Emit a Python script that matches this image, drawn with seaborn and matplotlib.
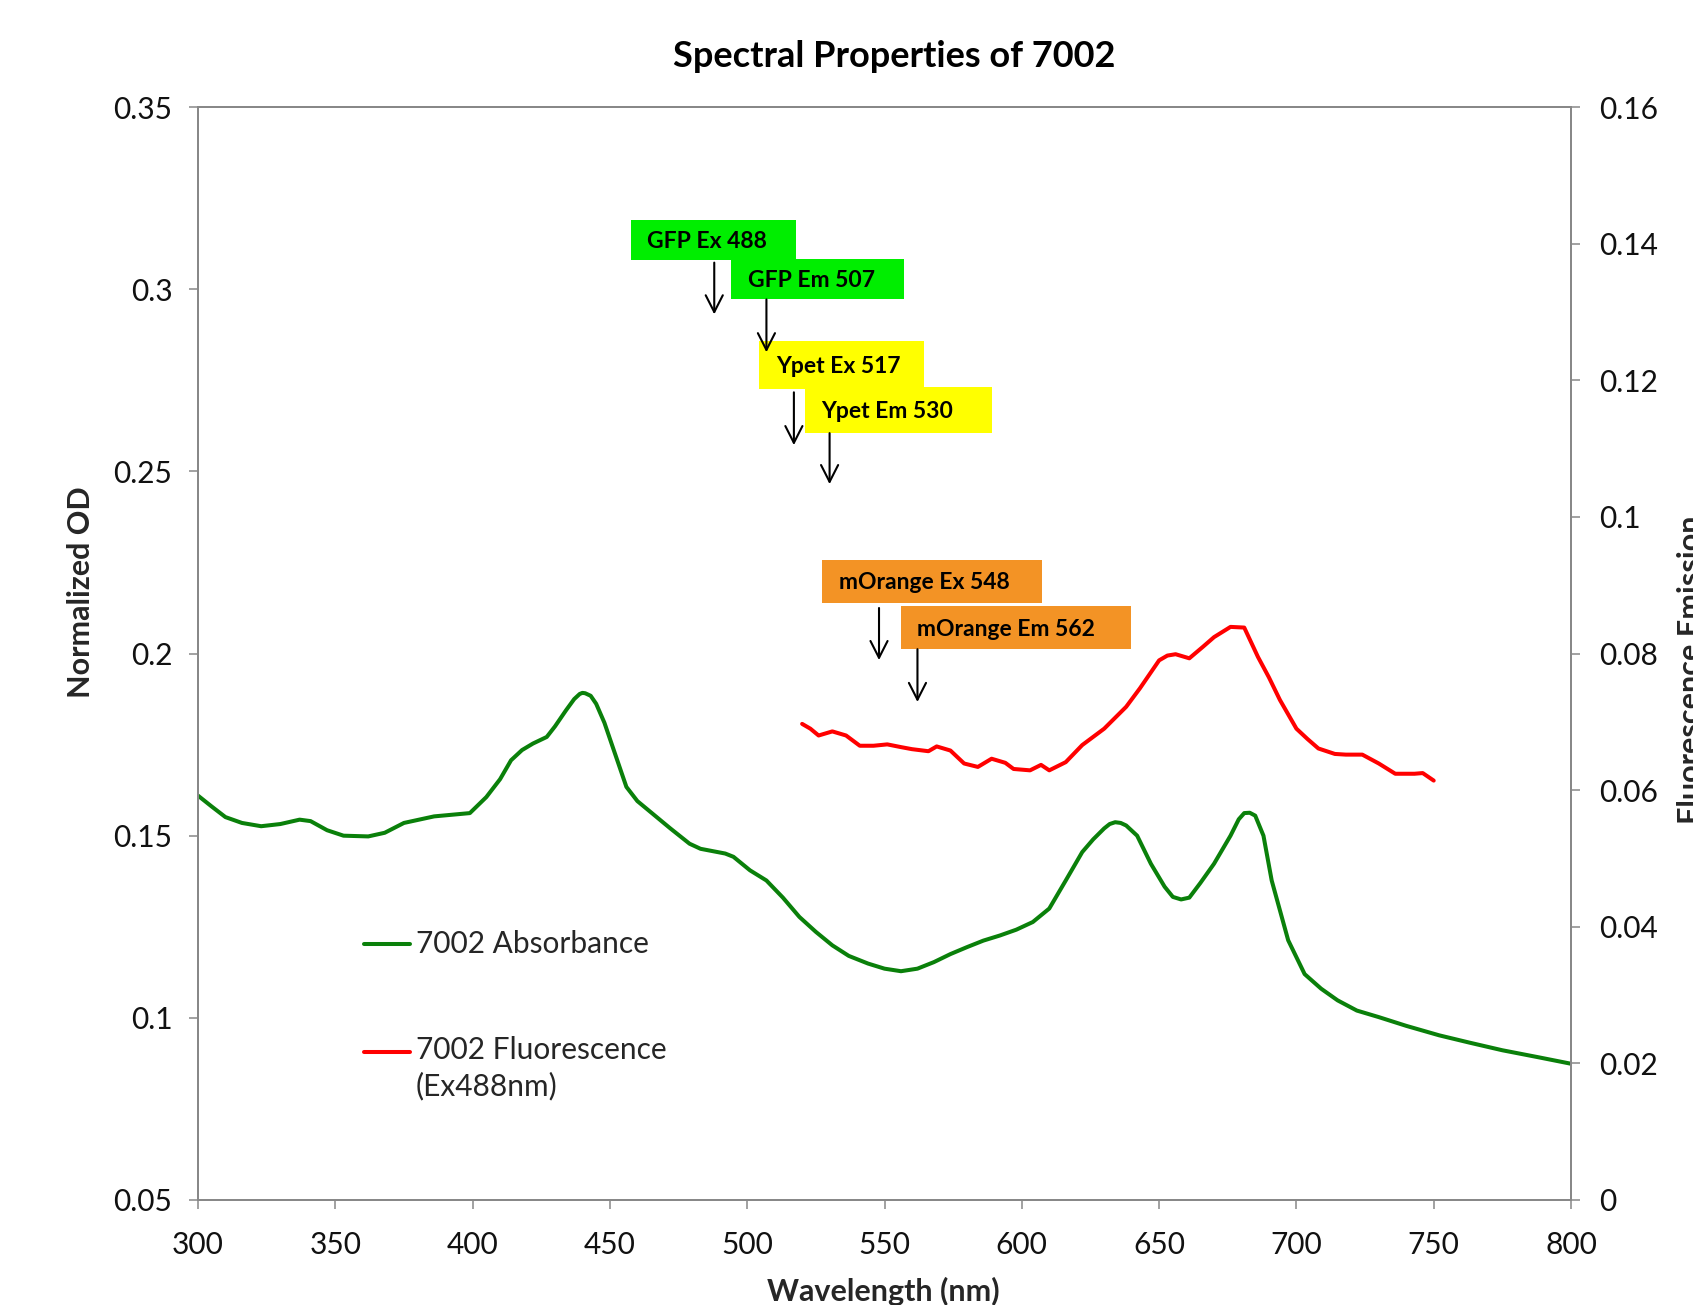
import numpy as np
import pandas as pd
import matplotlib
matplotlib.use("Agg")
import matplotlib.pyplot as plt
from matplotlib.ticker import FuncFormatter, MultipleLocator
from matplotlib.patches import Rectangle
import seaborn as sns

# Absorbance spectrum of strain 7002 (normalized OD)
abs_wavelength = [300, 305, 310, 316, 323, 330, 337, 341, 347, 353, 362, 368, 375, 386,
                  399, 405, 410, 414, 418, 422, 427, 430, 434, 437, 439, 440, 441, 443,
                  445, 448, 451, 456, 460, 464, 472, 479, 483, 492, 495, 501, 507, 513,
                  519, 525, 531, 537, 544, 550, 556, 562, 568, 574, 580, 586, 592, 598,
                  604, 610, 616, 622, 626, 630, 632, 634, 636, 638, 642, 647, 652, 655,
                  658, 661, 665, 670, 676, 679, 681, 683, 685, 688, 691, 697, 703, 709,
                  715, 722, 730, 740, 752, 763, 775, 788, 800]
abs_od = [0.161, 0.158, 0.1551, 0.1535, 0.1526, 0.1532, 0.1544, 0.154, 0.1515, 0.150,
          0.1498, 0.1508, 0.1535, 0.1553, 0.1562, 0.1606, 0.1655, 0.1707, 0.1735, 0.1753,
          0.1771, 0.180, 0.1844, 0.1875, 0.1889, 0.1892, 0.1891, 0.1884, 0.1862, 0.181,
          0.1744, 0.1634, 0.1595, 0.157, 0.152, 0.1478, 0.1464, 0.1451, 0.1442, 0.1405,
          0.1377, 0.133, 0.1277, 0.1236, 0.1199, 0.117, 0.1149, 0.1135, 0.1128, 0.1135,
          0.1153, 0.1175, 0.1194, 0.1212, 0.1226, 0.1242, 0.1263, 0.130, 0.1377, 0.1455,
          0.149, 0.152, 0.1532, 0.1537, 0.1535, 0.1528, 0.150, 0.1423, 0.136, 0.1332,
          0.1325, 0.133, 0.137, 0.1423, 0.150, 0.1545, 0.1562, 0.1563, 0.1555, 0.150,
          0.1377, 0.1213, 0.112, 0.108, 0.1048, 0.102, 0.1002, 0.0978, 0.0952, 0.0932,
          0.0911, 0.0892, 0.0874]

# Fluorescence emission spectrum (excitation 488 nm)
fl_wavelength = [520, 523, 526, 531, 536, 541, 546, 551, 556, 560, 566, 569, 574, 579,
                 584, 589, 594, 597, 603, 607, 610, 616, 622, 630, 638, 643, 650, 653,
                 656, 661, 666, 670, 676, 681, 686, 690, 694, 700, 704, 708, 714, 718,
                 724, 730, 736, 739, 743, 746, 750]
fl_emission = [0.0697, 0.069, 0.068, 0.0686, 0.068, 0.0665, 0.0665, 0.0667, 0.0663, 0.066,
               0.0657, 0.0664, 0.0658, 0.0639, 0.0634, 0.0646, 0.064, 0.0631, 0.0629, 0.0637,
               0.0629, 0.0641, 0.0666, 0.069, 0.0722, 0.0749, 0.079, 0.0797, 0.0799, 0.0793,
               0.081, 0.0824, 0.0839, 0.0838, 0.0795, 0.0765, 0.0732, 0.069, 0.0675, 0.0661,
               0.0653, 0.0652, 0.0652, 0.0639, 0.0624, 0.0624, 0.0624, 0.0625, 0.0614]

# Fluorophore markers: label, wavelength, colour
marker_labels = ["GFP Ex 488", "GFP Em 507", "Ypet Ex 517", "Ypet Em 530",
                 "mOrange Ex 548", "mOrange Em 562"]
marker_wavelengths = [488, 507, 517, 530, 548, 562]
marker_colors = ["#00EE00", "#00EE00", "#FFFF00", "#FFFF00", "#F39325", "#F39325"]
# label boxes (x0, x1, y_top, y_bottom) and arrow spans (y_start, y_end) in data units
marker_boxes = [(457.6, 517.8, 0.3189, 0.3079), (494.2, 557.1, 0.3082, 0.2972),
                (504.4, 564.2, 0.2857, 0.2726), (520.9, 589.0, 0.2732, 0.2605),
                (527.2, 607.4, 0.2258, 0.2139), (555.9, 639.6, 0.2130, 0.2012)]
marker_arrows = [(0.3073, 0.2931), (0.2972, 0.2827), (0.2717, 0.2572),
                 (0.2605, 0.2465), (0.2125, 0.1982), (0.2012, 0.1867)]

sns.set_style("white")
plt.rcParams["font.family"] = ["Lato", "DejaVu Sans"]

abs_df = pd.DataFrame({"Wavelength": abs_wavelength, "OD": abs_od})
fl_df = pd.DataFrame({"Wavelength": fl_wavelength, "Emission": fl_emission})

DPI = 100
fig = plt.figure(figsize=(16.93, 13.05), dpi=DPI)
ax = fig.add_axes([0.11695, 0.08046, 0.8110, 0.8375])
ax2 = ax.twinx()

sns.lineplot(data=abs_df, x="Wavelength", y="OD", ax=ax, color="#0A800A",
             linewidth=2.9, label="7002 Absorbance", legend=False)
sns.lineplot(data=fl_df, x="Wavelength", y="Emission", ax=ax2, color="#FF0000",
             linewidth=2.9, label="7002 Fluorescence\n(Ex488nm)", legend=False)

ax.set_xlim(300, 800)
ax.set_ylim(0.05, 0.35)
ax2.set_ylim(0, 0.16)
ax.xaxis.set_major_locator(MultipleLocator(50))
ax.yaxis.set_major_locator(MultipleLocator(0.05))
ax2.yaxis.set_major_locator(MultipleLocator(0.02))
fmt = FuncFormatter(lambda v, pos: f"{round(v, 4):g}")
ax.yaxis.set_major_formatter(fmt)
ax2.yaxis.set_major_formatter(fmt)

spine_color = "#888888"
for a in (ax, ax2):
    for s in a.spines.values():
        s.set_color(spine_color)
        s.set_linewidth(1.4)
    a.grid(False)
ax.tick_params(axis="both", which="major", direction="out", length=6.5, width=1.1,
               color=spine_color, labelsize=21.5, labelcolor="#111111")
ax.tick_params(axis="x", pad=16, bottom=True)
ax.tick_params(axis="y", pad=12, left=True)
ax2.tick_params(axis="y", direction="out", length=6.5, width=1.1, color=spine_color,
                labelsize=21.5, labelcolor="#111111", pad=14, right=True)

ax.set_xlabel("Wavelength (nm)", fontsize=22, fontweight="bold")
ax.xaxis.set_label_coords(0.499, -0.070)
ax.set_ylabel("Normalized OD", fontsize=22, fontweight="bold")
ax.yaxis.set_label_coords(-0.075, 0.556)
ax2.set_ylabel("Fluorescence Emission", fontsize=22, fontweight="bold")
ax2.yaxis.set_label_coords(1.0772, 0.485)

fig.text(0.528, 0.957, "Spectral Properties of 7002", ha="center", va="center",
         fontsize=26, fontweight="bold", color="black")

# fluorophore label boxes with arrows pointing at their wavelengths
for label, wl, color, box, arr in zip(marker_labels, marker_wavelengths, marker_colors,
                                      marker_boxes, marker_arrows):
    x0, x1, ytop, ybot = box
    ax.add_patch(Rectangle((x0, ybot), x1 - x0, ytop - ybot, facecolor=color,
                           edgecolor="none", zorder=5))
    ax.annotate(label, xy=(x0, (ytop + ybot) / 2), xytext=(12, -1),
                textcoords="offset points", ha="left", va="center",
                fontsize=16.5, fontweight="bold", color="black", zorder=6)
    ax.annotate("", xy=(wl, arr[1]), xytext=(wl, arr[0]),
                arrowprops=dict(arrowstyle="->,head_length=0.55,head_width=0.28",
                                color="black", lw=1.5, mutation_scale=22,
                                shrinkA=0, shrinkB=0), zorder=6)

handles = ax.get_legend_handles_labels()[0] + ax2.get_legend_handles_labels()[0]
labels = ax.get_legend_handles_labels()[1] + ax2.get_legend_handles_labels()[1]
leg = ax2.legend(handles, labels, loc="upper left", bbox_to_anchor=(0.121, 0.247),
                 frameon=False, fontsize=21.5, handlelength=1.55, handletextpad=0.18,
                 labelspacing=2.6, borderpad=0, borderaxespad=0)
for t in leg.get_texts():
    t.set_linespacing(1.35)

# align each legend line with the first line of its label
fig.canvas.draw()
renderer = fig.canvas.get_renderer()
for line, text in zip(leg.get_lines(), leg.get_texts()):
    tb = text.get_window_extent(renderer)
    n_lines = text.get_text().count("\n") + 1
    line_h = tb.height / n_lines
    target_y = tb.y1 - line_h / 2
    current_y = line.get_window_extent(renderer).y0 + line.get_window_extent(renderer).height / 2
    delta_pt = (target_y - current_y) * 72.0 / DPI
    line.set_ydata(np.asarray(line.get_ydata(), dtype=float) + delta_pt)

fig.savefig("out.png", dpi=DPI, facecolor="white")
